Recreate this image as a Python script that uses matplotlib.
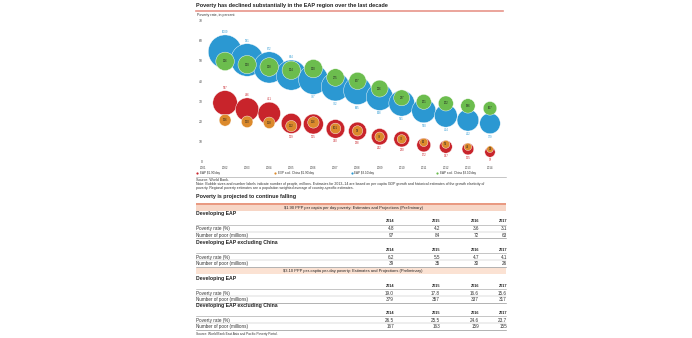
import numpy as np
import matplotlib
matplotlib.use('Agg')
import matplotlib.pyplot as plt
from matplotlib.patches import Rectangle

plt.rcParams['font.family'] = ['Liberation Sans Narrow', 'Liberation Sans', 'DejaVu Sans']

# 图表数据（贫困率 %，人数 百万）
years = [2002, 2003, 2004, 2005, 2006, 2007, 2008, 2009, 2010, 2011, 2012, 2013, 2014]
year_ticks = list(range(2001, 2015))
eap_190_rate = [29.2, 25.9, 24.0, 19.0, 18.7, 16.3, 15.2, 12.4, 11.2, 8.3, 7.4, 6.3, 4.8]
eap_190_poor = [537, 486, 451, 359, 355, 310, 288, 242, 220, 172, 147, 125, 97]
xc_190_rate = [20.6, 19.8, 19.3, 17.7, 19.5, 16.5, 15.3, 12.4, 11.2, 9.6, 8.6, 7.4, 6.2]
xc_190_poor = [126, 120, 118, 112, 116, 101, 95, 79, 72, 62, 56, 49, 39]
eap_310_rate = [54.6, 50.5, 46.8, 43.0, 40.8, 37.2, 35.3, 32.1, 29.0, 25.3, 22.8, 20.6, 19.0]
eap_310_poor = [1009, 951, 872, 814, 787, 722, 695, 638, 591, 520, 464, 422, 379]
xc_310_rate = [49.8, 48.2, 47.0, 45.4, 46.2, 41.8, 40.1, 36.3, 31.7, 29.7, 28.9, 27.7, 26.5]
xc_310_poor = [306, 300, 308, 304, 300, 275, 267, 256, 227, 201, 202, 186, 167]

# 表格数据
tbl_years = [2014, 2015, 2016, 2017]
rate_190_eap = ['4.8', '4.2', '3.6', '3.1']
poor_190_eap = ['97', '84', '72', '63']
rate_190_xc = ['6.2', '5.5', '4.7', '4.1']
poor_190_xc = ['39', '35', '30', '26']
rate_310_eap = ['19.0', '17.8', '16.6', '15.6']
poor_310_eap = ['379', '357', '337', '317']
rate_310_xc = ['26.5', '25.5', '24.6', '23.7']
poor_310_xc = ['167', '163', '159', '155']

BLUE = '#2b98d2'
GREEN = '#6cbd4e'
RED = '#c8242b'
ORANGE = '#dc8a2c'
SALMON = '#e8958a'

W, H = 692, 338
fig = plt.figure(figsize=(W / 100, H / 100), dpi=100)

# 整页坐标（像素）
page = fig.add_axes([0, 0, 1, 1])
page.set_xlim(0, W)
page.set_ylim(H, 0)
page.axis('off')

L, R = 196, 506

# 标题
page.text(L, 6, 'Poverty has declined substantially in the EAP region over the last decade',
          fontsize=3.95, fontweight='bold', va='center', ha='left', color='#222222')
page.plot([L, 503], [10.8, 10.8], color=SALMON, lw=1.2)
page.text(L + 1, 15.3, 'Poverty rate, in percent', fontsize=2.6, va='center', color='#333333')

# 气泡图
ax = fig.add_axes([L / W, 1 - 163 / H, (503 - L) / W, (163 - 18) / H])
px_year = (490 - 203) / 13
ax.set_xlim(2001 - (203 - L) / px_year, 2014 + (503 - 490) / px_year)
px_unit = (161.7 - 20.7) / 70
ax.set_ylim(-(163 - 161.7) / px_unit, 70 + (20.7 - 18) / px_unit)
ax.patch.set_alpha(0)
for sp in ax.spines.values():
    sp.set_visible(False)
ax.set_xticks(year_ticks)
ax.set_xticklabels([str(y) for y in year_ticks], fontsize=2.1, color='#444444')
ax.set_yticks(range(0, 71, 10))
ax.set_yticklabels([str(v) for v in range(0, 71, 10)], fontsize=2.4, color='#444444')
ax.tick_params(axis='both', length=0)
ax.tick_params(axis='y', pad=-4.8)
ax.tick_params(axis='x', pad=2.2)

k = 0.58  # 气泡面积 (pt^2) / 百万人


def bubbles(rate, poor, color, z):
    ax.scatter(years, rate, s=[k * p for p in poor], color=color,
               edgecolors='white', linewidths=0.3, zorder=z)


def labels_out(rate, poor, color, n_above):
    for i, (x, y, p) in enumerate(zip(years, rate, poor)):
        r = np.sqrt(k * p) / 2
        off = r + 2.2 if i < n_above else -(r + 2.2)
        ax.annotate(str(p), (x, y), textcoords='offset points', xytext=(0, off),
                    ha='center', va='center', fontsize=2.0, color=color, zorder=10)


def labels_in(rate, poor):
    for x, y, p in zip(years, rate, poor):
        ax.text(x, y, str(p), ha='center', va='center', fontsize=2.0,
                color='#222222', zorder=10)


bubbles(eap_310_rate, eap_310_poor, BLUE, 1)
bubbles(xc_310_rate, xc_310_poor, GREEN, 2)
bubbles(eap_190_rate, eap_190_poor, RED, 3)
bubbles(xc_190_rate, xc_190_poor, ORANGE, 4)
labels_out(eap_310_rate, eap_310_poor, BLUE, 4)
labels_out(eap_190_rate, eap_190_poor, RED, 3)
labels_in(xc_310_rate, xc_310_poor)
labels_in(xc_190_rate, xc_190_poor)

# 图例
legend_items = [('EAP $1.90/day', RED, 197), ('EXP excl. China $1.90/day', ORANGE, 275),
                ('EAP $3.10/day', BLUE, 352), ('EAP excl. China $3.10/day', GREEN, 437)]
for name, c, lx in legend_items:
    page.scatter([lx], [173.3], s=2.5, color=c, linewidths=0)
    page.text(lx + 2.5, 173.3, name, fontsize=2.2, va='center', color='#333333')
page.plot([L, R], [176.6, 176.6], color='#999999', lw=0.4)
page.text(L, 179.8, 'Source: World Bank.', fontsize=2.6, va='center', color='#333333')
page.text(L, 184, 'Note: Bubble sizes and number labels indicate number of people, millions. '
          'Estimates for 2013\u201314 are based on per capita GDP growth and historical estimates of '
          'the growth elasticity of', fontsize=2.57, va='center', color='#333333')
page.text(L, 188.3, 'poverty. Regional poverty estimates are a population-weighted average of '
          'country-specific estimates.', fontsize=2.57, va='center', color='#333333')

# 表格
page.text(L, 196.8, 'Poverty is projected to continue falling', fontsize=3.85,
          fontweight='bold', va='center', color='#222222')
col_right = [394, 440, 479, 507]


def band(y0, y1, text, dark):
    if dark:
        page.add_patch(Rectangle((L, y0), R - L, 2.4, color='#e99a82', lw=0))
        page.add_patch(Rectangle((L, y0 + 2.4), R - L, y1 - y0 - 2.4, color='#f7d6c6', lw=0))
    else:
        page.add_patch(Rectangle((L, y0), R - L, y1 - y0, color='#fbe2d3', lw=0))
    page.text(353, (y0 + y1) / 2 + (0.9 if dark else 0), text, fontsize=2.9,
              ha='center', va='center', color='#222222')


def block(y_head, head, rates, poors):
    y_years = y_head + 7.7
    y_rate = y_years + 7.2
    y_poor = y_rate + 6.6
    page.text(L, y_head, head, fontsize=3.7, fontweight='bold', va='center', color='#222222')
    for xr, yr in zip(col_right, tbl_years):
        page.text(xr, y_years, str(yr), fontsize=2.8, fontweight='bold',
                  ha='right', va='center', color='#222222')
    page.plot([L, R], [y_years + 3.3, y_years + 3.3], color='#999999', lw=0.4)
    page.text(L, y_rate, 'Poverty rate (%)', fontsize=3.3, va='center', color='#333333')
    page.plot([L, R], [y_rate + 3.2, y_rate + 3.2], color='#bbbbbb', lw=0.35)
    page.text(L, y_poor, 'Number of poor (millions)', fontsize=3.3, va='center', color='#333333')
    page.plot([L, R], [y_poor + 3.2, y_poor + 3.2], color='#888888', lw=0.45)
    for xr, rv, pv in zip(col_right, rates, poors):
        page.text(xr, y_rate, rv, fontsize=3.3, ha='right', va='center', color='#333333')
        page.text(xr, y_poor, pv, fontsize=3.3, ha='right', va='center', color='#333333')


band(203, 210.5, '$1.90 PPP per capita per day poverty: Estimates and Projections (Preliminary)', True)
block(213.6, 'Developing EAP', rate_190_eap, poor_190_eap)
block(242.3, 'Developing EAP excluding China', rate_190_xc, poor_190_xc)
band(268.2, 274.4, '$3.10 PPP per-capita per-day poverty: Estimates and Projections (Preliminary)', False)
block(278.3, 'Developing EAP', rate_310_eap, poor_310_eap)
block(305.4, 'Developing EAP excluding China', rate_310_xc, poor_310_xc)
page.text(L, 333.5, 'Source: World Bank East Asia and Pacific Poverty Portal.', fontsize=2.3,
          va='center', color='#333333')

fig.savefig('out.png', dpi=100)
